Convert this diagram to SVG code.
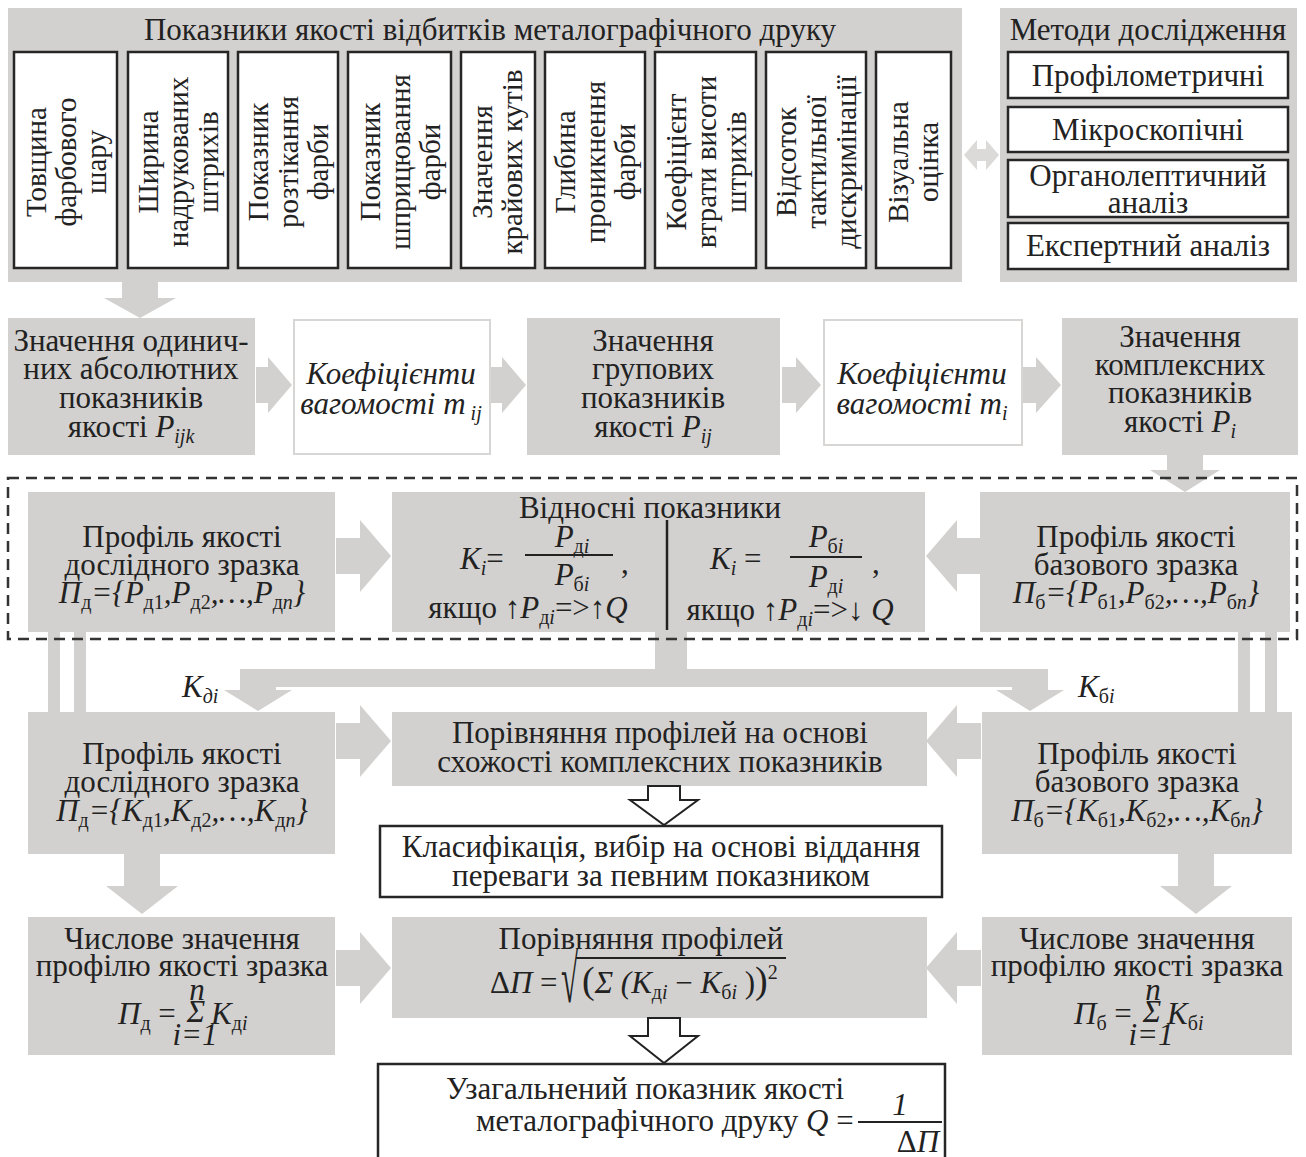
<svg xmlns="http://www.w3.org/2000/svg" width="1306" height="1157" viewBox="0 0 1306 1157">
<style>
.bg{fill:#d3d1cf}
.wb{fill:#fff;stroke:#262626;stroke-width:2.5}
.wl{fill:#fff;stroke:#d8d6d4;stroke-width:2}
.t{font-family:"Liberation Serif","Times New Roman",serif;font-size:31px;fill:#222;text-anchor:middle}
.rt{font-size:29px}
.s{text-anchor:start}
.it{font-style:italic}
.up{font-style:normal}
.sub{font-size:20px}
.ar{fill:#d3d1cf}
.ho{fill:#fff;stroke:#222;stroke-width:2}
.dash{fill:none;stroke:#333;stroke-width:2.5;stroke-dasharray:11 7}
.ln{stroke:#222;stroke-width:2}
</style>
<rect width="1306" height="1157" fill="#fff"/>

<g id="panel-quality">
<rect class="bg" x="8" y="8" width="954" height="274"/>
<text class="t" x="490" y="40">Показники якості відбитків металографічного друку</text>
<g id="q1"><rect class="wb" x="14" y="52" width="103" height="216"/><text class="t rt" transform="translate(65.5,162) rotate(-90)"><tspan x="0" y="-20">Товщина</tspan><tspan x="0" y="10">фарбового</tspan><tspan x="0" y="40">шару</tspan></text></g>
<g id="q2"><rect class="wb" x="128" y="52" width="100" height="216"/><text class="t rt" transform="translate(178,162) rotate(-90)"><tspan x="0" y="-20">Ширина</tspan><tspan x="0" y="10">надрукованих</tspan><tspan x="0" y="40">штрихів</tspan></text></g>
<g id="q3"><rect class="wb" x="238" y="52" width="100" height="216"/><text class="t rt" transform="translate(288,162) rotate(-90)"><tspan x="0" y="-20">Показник</tspan><tspan x="0" y="10">розтікання</tspan><tspan x="0" y="40">фарби</tspan></text></g>
<g id="q4"><rect class="wb" x="348" y="52" width="103" height="216"/><text class="t rt" transform="translate(399.5,162) rotate(-90)"><tspan x="0" y="-20">Показник</tspan><tspan x="0" y="10">шприцювання</tspan><tspan x="0" y="40">фарби</tspan></text></g>
<g id="q5"><rect class="wb" x="461" y="52" width="74" height="216"/><text class="t rt" transform="translate(498,162) rotate(-90)"><tspan x="0" y="-6">Значення</tspan><tspan x="0" y="24">крайових кутів</tspan></text></g>
<g id="q6"><rect class="wb" x="545" y="52" width="100" height="216"/><text class="t rt" transform="translate(595,162) rotate(-90)"><tspan x="0" y="-20">Глибина</tspan><tspan x="0" y="10">проникнення</tspan><tspan x="0" y="40">фарби</tspan></text></g>
<g id="q7"><rect class="wb" x="655" y="52" width="101" height="216"/><text class="t rt" transform="translate(705.5,162) rotate(-90)"><tspan x="0" y="-20">Коефіцієнт</tspan><tspan x="0" y="10">втрати висоти</tspan><tspan x="0" y="40">штрихів</tspan></text></g>
<g id="q8"><rect class="wb" x="766" y="52" width="100" height="216"/><text class="t rt" transform="translate(816,162) rotate(-90)"><tspan x="0" y="-20">Відсоток</tspan><tspan x="0" y="10">тактильної</tspan><tspan x="0" y="40">дискримінації</tspan></text></g>
<g id="q9"><rect class="wb" x="876" y="52" width="75" height="216"/><text class="t rt" transform="translate(913.5,162) rotate(-90)"><tspan x="0" y="-6">Візуальна</tspan><tspan x="0" y="24">оцінка</tspan></text></g>
</g>

<g id="panel-methods">
<rect class="bg" x="1000" y="8" width="297" height="274"/>
<text class="t" x="1148" y="40">Методи дослідження</text>
<g id="m1"><rect class="wb" x="1008" y="52" width="280" height="46"/><text class="t" x="1148" y="86">Профілометричні</text></g>
<g id="m2"><rect class="wb" x="1008" y="107" width="280" height="45"/><text class="t" x="1148" y="140">Мікроскопічні</text></g>
<g id="m3"><rect class="wb" x="1008" y="160" width="280" height="57"/><text class="t" x="1148" y="186">Органолептичний</text><text class="t" x="1148" y="213">аналіз</text></g>
<g id="m4"><rect class="wb" x="1008" y="223" width="280" height="46"/><text class="t" x="1148" y="256">Експертний аналіз</text></g>
</g>

<g id="r2a"><rect class="bg" x="8" y="318" width="247" height="137"/>
<text class="t" x="131" y="351">Значення одинич-</text><text class="t" x="131" y="379">них абсолютних</text><text class="t" x="131" y="408">показників</text>
<text class="t" x="131" y="437">якості <tspan class="it">P</tspan><tspan class="sub it" dy="6">ijk</tspan></text></g>
<g id="r2b"><rect class="wl" x="294" y="320" width="196" height="134"/>
<text class="t it" x="391" y="384">Коефіцієнти</text><text class="t it" x="391" y="414">вагомості <tspan>m</tspan><tspan class="sub" dy="6"> ij</tspan></text></g>
<g id="r2c"><rect class="bg" x="527" y="318" width="253" height="137"/>
<text class="t" x="653" y="351">Значення</text><text class="t" x="653" y="379">групових</text><text class="t" x="653" y="408">показників</text>
<text class="t" x="653" y="437">якості <tspan class="it">P</tspan><tspan class="sub it" dy="6">ij</tspan></text></g>
<g id="r2d"><rect class="wl" x="824" y="320" width="198" height="125"/>
<text class="t it" x="922" y="384">Коефіцієнти</text><text class="t it" x="922" y="414">вагомості <tspan>m</tspan><tspan class="sub" dy="6">i</tspan></text></g>
<g id="r2e"><rect class="bg" x="1062" y="318" width="236" height="137"/>
<text class="t" x="1180" y="347">Значення</text><text class="t" x="1180" y="375">комплексних</text><text class="t" x="1180" y="403">показників</text>
<text class="t" x="1180" y="432">якості <tspan class="it">P</tspan><tspan class="sub it" dy="6">i</tspan></text></g>

<g id="r3a"><rect class="bg" x="28" y="492" width="307" height="140"/>
<text class="t" x="182" y="547">Профіль якості</text><text class="t" x="182" y="575">дослідного зразка</text>
<text class="t it" x="182" y="603">П<tspan class="sub up" dy="6">д</tspan><tspan dy="-6">={P</tspan><tspan class="sub up" dy="6">д1</tspan><tspan dy="-6">,P</tspan><tspan class="sub up" dy="6">д2</tspan><tspan dy="-6">,…,P</tspan><tspan class="sub" dy="6"><tspan class="up">д</tspan>n</tspan><tspan dy="-6">}</tspan></text></g>
<g id="r3b"><rect class="bg" x="392" y="492" width="533" height="140"/>
<text class="t" x="650" y="518">Відносні показники</text>
<text class="t s it" x="460" y="569">K<tspan class="sub" dy="6">i</tspan><tspan dy="-6" class="up">=</tspan></text>
<text class="t it" x="572" y="547">P<tspan class="sub" dy="6"><tspan class="up">д</tspan>i</tspan></text>
<line class="ln" x1="525" y1="555" x2="613" y2="555"/>
<text class="t it" x="572" y="585">P<tspan class="sub" dy="6"><tspan class="up">б</tspan>i</tspan></text>
<text class="t s" x="621" y="573">,</text>
<text class="t" x="528" y="618">якщо ↑<tspan class="it">P</tspan><tspan class="sub" dy="6"><tspan class="up">д</tspan><tspan class="it">i</tspan></tspan><tspan dy="-6">=&gt;↑</tspan><tspan class="it">Q</tspan></text>
<line x1="667" y1="520" x2="667" y2="630" stroke="#222" stroke-width="2.5"/>
<text class="t s it" x="710" y="569">K<tspan class="sub" dy="6">i</tspan><tspan dy="-6" class="up"> =</tspan></text>
<text class="t it" x="826" y="547">P<tspan class="sub" dy="6"><tspan class="up">б</tspan>i</tspan></text>
<line class="ln" x1="790" y1="557" x2="862" y2="557"/>
<text class="t it" x="826" y="587">P<tspan class="sub" dy="6"><tspan class="up">д</tspan>i</tspan></text>
<text class="t s" x="872" y="573">,</text>
<text class="t" x="790" y="620">якщо ↑<tspan class="it">P</tspan><tspan class="sub" dy="6"><tspan class="up">д</tspan><tspan class="it">i</tspan></tspan><tspan dy="-6">=&gt;↓ </tspan><tspan class="it">Q</tspan></text></g>
<g id="r3c"><rect class="bg" x="980" y="492" width="310" height="140"/>
<text class="t" x="1136" y="547">Профіль якості</text><text class="t" x="1136" y="575">базового зразка</text>
<text class="t it" x="1136" y="603">П<tspan class="sub up" dy="6">б</tspan><tspan dy="-6">={P</tspan><tspan class="sub up" dy="6">б1</tspan><tspan dy="-6">,P</tspan><tspan class="sub up" dy="6">б2</tspan><tspan dy="-6">,…,P</tspan><tspan class="sub" dy="6"><tspan class="up">б</tspan>n</tspan><tspan dy="-6">}</tspan></text></g>

<g id="r4a"><rect class="bg" x="28" y="712" width="307" height="142"/>
<text class="t" x="182" y="764">Профіль якості</text><text class="t" x="182" y="792">дослідного зразка</text>
<text class="t it" x="182" y="821">П<tspan class="sub up" dy="6">д</tspan><tspan dy="-6">={K</tspan><tspan class="sub up" dy="6">д1</tspan><tspan dy="-6">,K</tspan><tspan class="sub up" dy="6">д2</tspan><tspan dy="-6">,…,K</tspan><tspan class="sub" dy="6"><tspan class="up">д</tspan>n</tspan><tspan dy="-6">}</tspan></text></g>
<g id="r4b"><rect class="bg" x="392" y="712" width="535" height="74"/>
<text class="t" x="660" y="743">Порівняння профілей на основі</text><text class="t" x="660" y="772">схожості комплексних показників</text></g>
<g id="r4c"><rect class="bg" x="982" y="712" width="310" height="142"/>
<text class="t" x="1137" y="764">Профіль якості</text><text class="t" x="1137" y="792">базового зразка</text>
<text class="t it" x="1137" y="821">П<tspan class="sub up" dy="6">б</tspan><tspan dy="-6">={K</tspan><tspan class="sub up" dy="6">б1</tspan><tspan dy="-6">,K</tspan><tspan class="sub up" dy="6">б2</tspan><tspan dy="-6">,…,K</tspan><tspan class="sub" dy="6"><tspan class="up">б</tspan>n</tspan><tspan dy="-6">}</tspan></text></g>
<g id="r4d"><rect class="wb" x="380" y="826" width="562" height="71"/>
<text class="t" x="661" y="857">Класифікація, вибір на основі віддання</text><text class="t" x="661" y="886">переваги за певним показником</text></g>

<g id="r5a"><rect class="bg" x="28" y="917" width="307" height="138"/>
<text class="t" x="182" y="949">Числове значення</text><text class="t" x="182" y="976">профілю якості зразка</text>
<text class="t s it" x="118" y="1024">П<tspan class="sub up" dy="6">д</tspan><tspan dy="-6" class="up"> =</tspan></text>
<text class="t it" x="196" y="1022" font-size="26">Σ</text>
<text class="t it" x="197" y="1000" font-size="17">n</text>
<text class="t it" x="195" y="1045" font-size="17">i=1</text>
<text class="t s it" x="211" y="1024">K<tspan class="sub" dy="6"><tspan class="up">д</tspan>i</tspan></text></g>
<g id="r5b"><rect class="bg" x="392" y="917" width="535" height="101"/>
<text class="t" x="641" y="949">Порівняння профілей</text>
<text class="t s" x="490" y="993">Δ<tspan class="it">П</tspan> =</text>
<text class="t s" transform="translate(561,1002) scale(1,2.2)" font-size="52">√</text>
<line class="ln" x1="576" y1="958" x2="786" y2="958"/>
<text class="t s it" x="582" y="993"><tspan font-size="38" class="up">(</tspan>Σ (K<tspan class="sub" dy="6"><tspan class="up">д</tspan>i</tspan><tspan dy="-6" class="up"> − </tspan>K<tspan class="sub" dy="6"><tspan class="up">б</tspan>i</tspan><tspan dy="-6" class="up"> )</tspan><tspan font-size="38" class="up">)</tspan><tspan class="sub up" dy="-14">2</tspan></text></g>
<g id="r5c"><rect class="bg" x="982" y="917" width="310" height="138"/>
<text class="t" x="1137" y="949">Числове значення</text><text class="t" x="1137" y="976">профілю якості зразка</text>
<text class="t s it" x="1074" y="1024">П<tspan class="sub up" dy="6">б</tspan><tspan dy="-6" class="up"> =</tspan></text>
<text class="t it" x="1152" y="1022" font-size="26">Σ</text>
<text class="t it" x="1153" y="1000" font-size="17">n</text>
<text class="t it" x="1151" y="1045" font-size="17">i=1</text>
<text class="t s it" x="1167" y="1024">K<tspan class="sub" dy="6"><tspan class="up">б</tspan>i</tspan></text></g>
<g id="r5d"><rect class="wb" x="378" y="1064" width="567" height="100"/>
<text class="t" x="645" y="1099">Узагальнений показник якості</text>
<text class="t s" x="476" y="1131">металографічного друку <tspan class="it">Q</tspan> =</text>
<text class="t it" x="900" y="1115">1</text>
<line class="ln" x1="858" y1="1122" x2="942" y2="1122"/>
<text class="t" x="918" y="1152">Δ<tspan class="it">П</tspan></text></g>

<g id="connectors">
<polygon class="ar" points="122,282 158,282 158,298 176,298 140,318 104,298 122,298"/>
<polygon points="964,155 977,140 977,149 986,149 986,140 999,155 986,170 986,161 977,161 977,170" fill="#dcdad8"/>
<polygon class="ar" points="256,367 268,367 268,357 292,385 268,413 268,403 256,403"/>
<polygon class="ar" points="491,367 502,367 502,357 526,385 502,413 502,403 491,403"/>
<polygon class="ar" points="782,367 796,367 796,357 821,385 796,413 796,403 782,403"/>
<polygon class="ar" points="1023,367 1036,367 1036,357 1061,385 1036,413 1036,403 1023,403"/>
<polygon class="ar" points="1167,455 1203,455 1203,470 1220,470 1185,492 1150,470 1167,470"/>
<polygon class="ar" points="336,538 360,538 360,520 391,556 360,592 360,574 336,574"/>
<polygon class="ar" points="981,538 957,538 957,520 926,556 957,592 957,574 981,574"/>
<rect class="ar" x="655" y="632" width="32" height="55"/>
<rect class="ar" x="240" y="669" width="808" height="18"/>
<polygon class="ar" points="240,687 276,687 276,690 292,690 258,711 224,690 240,690"/>
<polygon class="ar" points="1012,687 1048,687 1048,690 1064,690 1030,711 996,690 1012,690"/>
<rect class="ar" x="48" y="632" width="12" height="80"/>
<rect class="ar" x="74" y="632" width="12" height="80"/>
<rect class="ar" x="1238" y="632" width="12" height="80"/>
<rect class="ar" x="1265" y="632" width="12" height="80"/>
<polygon class="ar" points="336,723 360,723 360,705 391,741 360,777 360,759 336,759"/>
<polygon class="ar" points="981,723 957,723 957,705 926,741 957,777 957,759 981,759"/>
<polygon class="ho" points="648,786 680,786 680,800 698,800 664,825 630,800 648,800"/>
<polygon class="ar" points="124,854 160,854 160,886 178,886 142,914 106,886 124,886"/>
<polygon class="ar" points="1178,854 1214,854 1214,886 1232,886 1196,914 1160,886 1178,886"/>
<polygon class="ar" points="336,950 360,950 360,932 391,968 360,1004 360,986 336,986"/>
<polygon class="ar" points="981,950 957,950 957,932 926,968 957,1004 957,986 981,986"/>
<polygon class="ho" points="648,1018 680,1018 680,1036 698,1036 664,1063 630,1036 648,1036"/>
<text class="t s it" x="182" y="697">K<tspan class="sub" dy="6">дi</tspan></text>
<text class="t s it" x="1078" y="697">K<tspan class="sub" dy="6"><tspan class="up">б</tspan>i</tspan></text>
</g>
<rect class="dash" x="8" y="478" width="1289" height="161"/>
</svg>
